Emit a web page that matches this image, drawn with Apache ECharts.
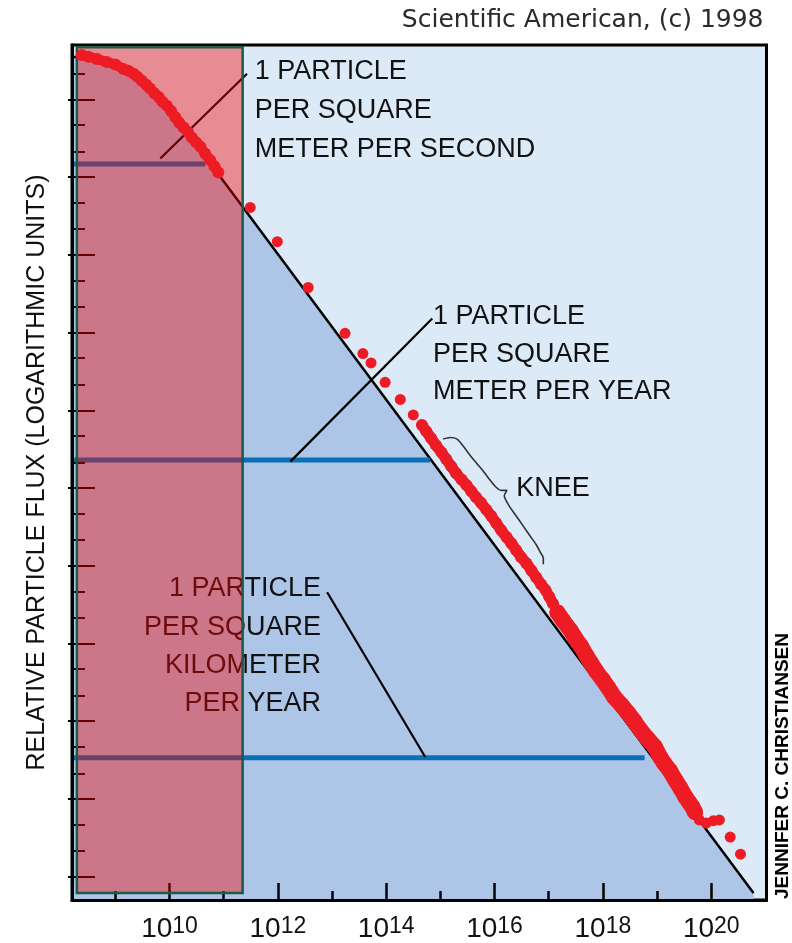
<!DOCTYPE html>
<html><head><meta charset="utf-8">
<script src="https://cdn.jsdelivr.net/npm/echarts/dist/echarts.min.js"></script>
<style>html,body{margin:0;padding:0;background:#fff}#chart{width:792px;height:943px}</style>
</head><body><div id="chart"></div>
<script>
// x: log10(particle energy in eV); y: relative particle flux in logarithmic units
const energyRange = [8.2, 21.02];
const fluxRange = [-0.3, 10.7];
const energyMajorTicks = [10, 12, 14, 16, 18, 20];
const energyMinorTicks = [9, 11, 13, 15, 17, 19];
const fluxMajorTicks = [0, 1, 2, 3, 4, 5, 6, 7, 8, 9, 10];
const fluxMinorTicks = [0.33, 0.67, 1.33, 1.67, 2.33, 2.67, 3.33, 3.67, 4.33, 4.67, 5.33, 5.67,
  6.33, 6.67, 7.33, 7.67, 8.33, 8.67, 9.33, 9.67, 10.33];

// measured spectrum (red points)
const lowEnergyPoints = [[8.38,10.57],[8.50,10.55],[8.66,10.52],[8.84,10.48],[9.00,10.45],[9.15,10.39],
  [9.24,10.37],[9.34,10.33],[9.41,10.29],[9.49,10.24],[9.57,10.19],[9.64,10.14],[9.72,10.08],[9.80,10.03],
  [9.87,9.97],[9.95,9.92],[10.03,9.85],[10.11,9.77],[10.18,9.70],[10.26,9.64],[10.34,9.58],[10.41,9.51],
  [10.49,9.45],[10.57,9.39],[10.66,9.30],[10.75,9.22],[10.83,9.14],[10.90,9.06]];
const sparsePoints = [[11.49,8.61],[11.99,8.17],[12.56,7.58],[13.24,6.99],[13.57,6.73],[13.72,6.61],
  [13.98,6.36],[14.26,6.14],[14.50,5.94]];
const kneeBandPoints = [[14.66,5.81],[14.74,5.73],[14.83,5.64],[14.92,5.55],[15.02,5.46],[15.11,5.37],
  [15.20,5.28],[15.29,5.19],[15.39,5.11],[15.48,5.04],[15.57,4.96],[15.66,4.88],[15.75,4.81],[15.85,4.72],
  [15.94,4.64],[16.03,4.55],[16.12,4.46],[16.22,4.37],[16.31,4.29],[16.40,4.20],[16.49,4.11],[16.59,4.03],
  [16.68,3.94],[16.77,3.85],[16.86,3.76],[16.94,3.69],[17.01,3.60],[17.08,3.51]];
const highBandPoints = [[17.16,3.40],[17.27,3.29],[17.40,3.17],[17.49,3.07],[17.60,2.96],[17.69,2.85],
  [17.78,2.75],[17.88,2.64],[18.00,2.53],[18.10,2.43],[18.21,2.31],[18.34,2.21],[18.47,2.10],[18.58,2.00],
  [18.69,1.89],[18.82,1.78],[18.96,1.67],[19.04,1.56],[19.13,1.46],[19.24,1.36],[19.34,1.24],[19.43,1.14],
  [19.52,1.03],[19.59,0.96],[19.65,0.90],[19.70,0.83]];
const tailPoints = [[19.78,0.73],[19.91,0.69],[20.04,0.72],[20.15,0.73],[20.35,0.51],[20.54,0.29]];

// smooth spectrum (black line, blue fill beneath)
const fitCurve = [[8.2,10.55],[8.66,10.52],[9.00,10.45],[9.34,10.33],[9.64,10.14],[9.95,9.92],[10.26,9.64],[20.78,-0.21]];

// reference flux levels (blue lines) and where they meet the spectrum
const levelFlux = [9.17, 5.36, 1.53];
const levelEnergyEnd = [10.66, 14.81, 18.77];

// annotation pointers
const leaderLines = [
  [[9.83,9.24],[11.43,10.33]],
  [[12.23,5.34],[14.85,7.18]],
  [[12.91,3.66],[14.72,1.54]]
];
const kneeBrace = [[15.05,5.63],[15.18,5.65],[15.31,5.63],[15.42,5.54],[15.55,5.42],[15.68,5.31],[15.81,5.20],
  [15.92,5.10],[16.03,5.01],[16.12,4.97],[16.23,4.97],[16.18,4.90],[16.27,4.77],[16.40,4.64],[16.53,4.51],
  [16.66,4.38],[16.77,4.27],[16.84,4.18],[16.90,4.10],[16.90,4.02]];

// shaded low-energy region
const shadedEnergy = [8.29, 11.35];
const shadedFlux = [-0.21, 10.67];

const annotationTexts = [
  '1 PARTICLE\nPER SQUARE\nMETER PER SECOND',
  '1 PARTICLE\nPER SQUARE\nMETER PER YEAR',
  'KNEE',
  '1 PARTICLE\nPER SQUARE\nKILOMETER\nPER YEAR'
];

const chart = echarts.init(document.getElementById('chart'), null, {renderer: 'canvas'});
const TXT = '#111';
const FONT = 'Liberation Sans';
const red = '#ED1C24';

function lineSeries(data, color, width, z) {
  return {type: 'line', data: data, symbol: 'none', silent: true, z: z,
    lineStyle: {color: color, width: width}, animation: false};
}

const series = [];
series.push({
  type: 'line', data: fitCurve, symbol: 'none', silent: true, z: 1,
  lineStyle: {color: '#000', width: 2.5},
  areaStyle: {color: '#ADC5E6', opacity: 1, origin: 'start'}
});
levelFlux.forEach((f, i) => {
  series.push(lineSeries([[energyRange[0], f], [levelEnergyEnd[i], f]], '#0B6FB8', 5, 2));
});
leaderLines.forEach(seg => series.push(lineSeries(seg, '#000', 2.2, 2)));
series.push(Object.assign(lineSeries(kneeBrace, '#333', 1.6, 2), {smooth: 0.25}));
series.push({
  type: 'custom', z: 5, silent: true,
  data: [[shadedEnergy[0], shadedEnergy[1], shadedFlux[0], shadedFlux[1]]],
  encode: {x: [0, 1], y: [2, 3]},
  renderItem: (params, api) => {
    const a = api.coord([api.value(0), api.value(3)]);
    const b = api.coord([api.value(1), api.value(2)]);
    return {type: 'rect', shape: {x: a[0], y: a[1], width: b[0] - a[0], height: b[1] - a[1]},
      style: {fill: 'rgba(250,0,0,0.4)', stroke: '#1d5a48', lineWidth: 2.5}};
  }
});
// dense runs of measurements merge into a thick band
[[lowEnergyPoints, 10], [kneeBandPoints, 11], [highBandPoints, 16]].forEach(([d, w]) => {
  const s = lineSeries(d, red, w, 6);
  s.lineStyle.cap = 'round'; s.lineStyle.join = 'round';
  series.push(s);
});
[[lowEnergyPoints, 12], [sparsePoints, 11], [kneeBandPoints, 12], [highBandPoints, 16], [tailPoints, 11]]
  .forEach(([d, s]) => series.push({type: 'scatter', data: d, symbol: 'circle', symbolSize: s, z: 6,
    silent: true, itemStyle: {color: red, opacity: 1}}));

function xAxisBase() {
  return {type: 'value', min: energyRange[0], max: energyRange[1], position: 'bottom', z: 3,
    splitLine: {show: false}};
}
function yAxisBase() {
  return {type: 'value', min: fluxRange[0], max: fluxRange[1], position: 'left', z: 3,
    splitLine: {show: false}, axisLabel: {show: false}};
}

const option = {
  animation: false,
  grid: {left: 72, right: 25.5, top: 45, bottom: 43, show: true, backgroundColor: '#DCE9F7',
    borderColor: '#000', borderWidth: 3, containLabel: false},
  xAxis: [
    Object.assign(xAxisBase(), {
      axisLine: {show: true, onZero: false, lineStyle: {color: '#000', width: 3}},
      axisTick: {show: true, inside: true, length: 17, lineStyle: {color: '#000', width: 2.5}, customValues: energyMajorTicks},
      axisLabel: {show: true, customValues: energyMajorTicks, margin: 15,
        formatter: v => '{b|10}{s|' + v + '}',
        rich: {
          b: {fontFamily: FONT, fontSize: 28, lineHeight: 28, color: TXT, verticalAlign: 'bottom', padding: [5, 0, 0, 0]},
          s: {fontFamily: FONT, fontSize: 23, lineHeight: 23, color: TXT, verticalAlign: 'top'}
        }}
    }),
    Object.assign(xAxisBase(), {
      axisLine: {show: false, onZero: false},
      axisTick: {show: true, inside: true, length: 9, lineStyle: {color: '#000', width: 2.5}, customValues: energyMinorTicks},
      axisLabel: {show: false}
    })
  ],
  yAxis: [
    Object.assign(yAxisBase(), {
      axisLine: {show: true, onZero: false, lineStyle: {color: '#000', width: 3}},
      axisTick: {show: true, inside: true, length: 23, lineStyle: {color: '#000', width: 2}, customValues: fluxMajorTicks},
      name: 'RELATIVE PARTICLE FLUX (LOGARITHMIC UNITS)', nameLocation: 'middle', nameGap: 22,
      nameTextStyle: {fontFamily: FONT, fontSize: 25, color: TXT}
    }),
    Object.assign(yAxisBase(), {
      axisLine: {show: false, onZero: false},
      axisTick: {show: true, inside: true, length: 13, lineStyle: {color: '#000', width: 2}, customValues: fluxMinorTicks}
    }),
    Object.assign(yAxisBase(), {
      axisLine: {show: false, onZero: false},
      axisTick: {show: true, inside: false, length: 4, lineStyle: {color: '#000', width: 2}, customValues: fluxMajorTicks}
    })
  ],
  graphic: [
    {type: 'text', x: 763.5, y: 20, z: 4, silent: true,
      style: {text: 'Scientific American, (c) 1998', fontFamily: 'DejaVu Sans', fontSize: 25, fill: '#2a2a2a',
        align: 'right', textAlign: 'right', verticalAlign: 'middle', textVerticalAlign: 'middle'}},
    {type: 'text', x: 254.7, y: 51.85, z: 4, silent: true,
      style: {text: annotationTexts[0], fontFamily: FONT, fontSize: 27, lineHeight: 38.9, fill: TXT,
        align: 'left', textAlign: 'left', verticalAlign: 'top', textVerticalAlign: 'top'}},
    {type: 'text', x: 433, y: 297.95, z: 4, silent: true,
      style: {text: annotationTexts[1], fontFamily: FONT, fontSize: 27, lineHeight: 37.5, fill: TXT,
        align: 'left', textAlign: 'left', verticalAlign: 'top', textVerticalAlign: 'top'}},
    {type: 'text', x: 516.3, y: 489, z: 4, silent: true,
      style: {text: annotationTexts[2], fontFamily: FONT, fontSize: 27, fill: TXT,
        align: 'left', textAlign: 'left', verticalAlign: 'middle', textVerticalAlign: 'middle'}},
    {type: 'text', x: 321, y: 569.95, z: 4, silent: true,
      style: {text: annotationTexts[3], fontFamily: FONT, fontSize: 27, lineHeight: 38.1, fill: TXT,
        align: 'right', textAlign: 'right', verticalAlign: 'top', textVerticalAlign: 'top'}},
    {type: 'text', x: 782.5, y: 766, z: 4, silent: true, rotation: Math.PI / 2,
      style: {text: 'JENNIFER C. CHRISTIANSEN', fontFamily: FONT, fontWeight: 'bold', fontSize: 19, fill: '#000',
        align: 'center', textAlign: 'center', verticalAlign: 'middle', textVerticalAlign: 'middle'}}
  ],
  series: series
};
chart.setOption(option);
</script>
</body></html>
